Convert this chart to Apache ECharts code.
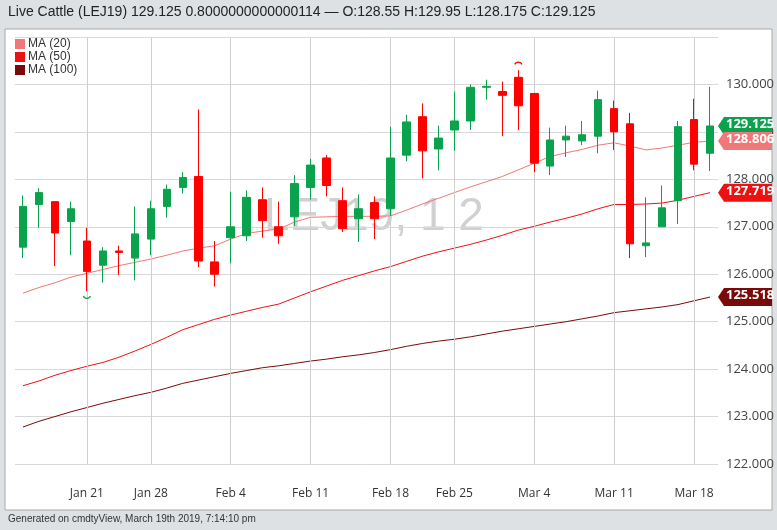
<!DOCTYPE html>
<html><head><meta charset="utf-8">
<script src="https://cdn.jsdelivr.net/npm/echarts@6/dist/echarts.min.js"></script>
<style>html,body{margin:0;padding:0;background:#dde1e4;}#c{width:777px;height:530px;}</style>
</head><body><div id="c"></div>
<script>
const dates = ['Jan 15','Jan 16','Jan 17','Jan 18','Jan 22','Jan 23','Jan 24','Jan 25','Jan 28','Jan 29','Jan 30','Jan 31','Feb 1','Feb 4','Feb 5','Feb 6','Feb 7','Feb 8','Feb 11','Feb 12','Feb 13','Feb 14','Feb 15','Feb 19','Feb 20','Feb 21','Feb 22','Feb 25','Feb 26','Feb 27','Feb 28','Mar 1','Mar 4','Mar 5','Mar 6','Mar 7','Mar 8','Mar 11','Mar 12','Mar 13','Mar 14','Mar 15','Mar 18','Mar 19'];
const opens  = [126.57,127.47,127.53,127.11,126.70,126.19,126.49,126.34,126.74,127.43,127.83,128.06,126.26,126.77,126.81,127.57,127.00,127.21,127.83,128.45,127.55,127.17,127.51,127.38,128.51,129.32,128.64,129.04,129.23,129.94,129.85,130.15,129.81,128.28,128.83,128.81,128.91,129.49,129.17,126.60,127.00,127.55,129.26,128.55];
const closes = [127.43,127.72,126.87,127.38,126.06,126.49,126.46,126.85,127.38,127.79,128.04,126.28,126.00,127.00,127.62,127.13,126.81,127.91,128.30,127.87,126.96,127.38,127.17,128.45,129.21,128.60,128.87,129.23,129.94,129.96,129.77,129.55,128.34,128.83,128.91,128.94,129.68,129.00,126.64,126.66,127.40,129.11,128.32,129.125];
const lows   = [126.34,126.98,126.17,126.40,125.64,125.82,125.98,125.87,126.40,127.19,127.70,126.15,125.74,126.23,126.70,126.77,126.64,127.02,127.57,127.64,126.89,126.68,126.74,127.23,128.38,128.02,128.19,128.60,129.04,129.68,128.91,129.04,128.15,128.09,128.47,128.72,128.55,128.62,126.34,126.36,127.00,127.06,128.19,128.175];
const highs  = [127.66,127.81,127.53,127.53,126.98,126.57,126.60,127.43,127.55,127.89,128.15,129.47,126.70,127.74,127.77,127.83,127.53,128.09,128.43,128.51,127.83,127.68,127.64,129.11,129.36,129.60,129.13,129.85,130.00,130.10,130.06,130.30,129.81,129.09,129.13,129.23,129.87,129.66,129.40,127.62,127.87,129.23,129.70,129.95];
const ma20  = [125.60,125.72,125.82,125.94,126.02,126.10,126.18,126.25,126.32,126.40,126.49,126.55,126.60,126.74,126.86,126.91,126.95,127.10,127.20,127.21,127.22,127.22,127.22,127.23,127.35,127.48,127.60,127.72,127.84,127.95,128.06,128.20,128.34,128.48,128.56,128.63,128.72,128.77,128.70,128.62,128.66,128.72,128.78,128.806];
const ma50  = [123.65,123.75,123.87,123.97,124.06,124.14,124.25,124.38,124.52,124.67,124.83,124.94,125.05,125.14,125.22,125.30,125.37,125.50,125.63,125.75,125.87,125.97,126.07,126.16,126.27,126.38,126.47,126.55,126.63,126.72,126.82,126.93,127.01,127.10,127.18,127.27,127.38,127.47,127.47,127.48,127.50,127.56,127.64,127.719];
const ma100 = [122.78,122.90,123.00,123.10,123.19,123.28,123.36,123.44,123.51,123.60,123.70,123.77,123.84,123.91,123.97,124.03,124.07,124.12,124.17,124.21,124.26,124.30,124.35,124.41,124.48,124.54,124.59,124.63,124.68,124.74,124.80,124.85,124.90,124.95,125.00,125.06,125.12,125.19,125.23,125.27,125.31,125.36,125.44,125.518];
const tickDates  = ['Jan 22','Jan 28','Feb 4','Feb 11','Feb 19','Feb 25','Mar 4','Mar 11','Mar 18'];
const tickLabels = ['Jan 21','Jan 28','Feb 4','Feb 11','Feb 18','Feb 25','Mar 4','Mar 11','Mar 18'];

const GREEN='#0aa24c', RED='#ff0000', C20='#f07878', C50='#ee1111', C100='#7a0a0a';
const candles = dates.map((d,i)=>[opens[i],closes[i],lows[i],highs[i]]);
const chart = echarts.init(document.getElementById('c'));
const baseGraphic = [
  {type:'rect',shape:{x:5,y:29,width:767,height:481},style:{fill:'#fff',stroke:'#a8a8a8',lineWidth:1},z:-10},
  {type:'text',left:8,top:5,style:{text:'Live Cattle (LEJ19) 129.125 0.8000000000000114 — O:128.55 H:129.95 L:128.175 C:129.125',fontSize:14,fill:'#222',fontFamily:'Liberation Sans'}},
  {type:'text',left:8,top:514,style:{text:'Generated on cmdtyView, March 19th 2019, 7:14:10 pm',fontSize:10,fill:'#333',fontFamily:'Liberation Sans'}},
  {type:'text',left:264,top:194,z:0,style:{text:'LEJ19, 1 2',fontSize:46,fill:'#d0d0d0',fontFamily:'Liberation Sans'}}
];
chart.setOption({
  animation:false,
  backgroundColor:'#dde1e4',
  graphic:baseGraphic,
  legend:{left:10,top:33,orient:'vertical',itemGap:1,itemWidth:10,itemHeight:10,icon:'rect',
    textStyle:{fontSize:12,color:'#333',fontFamily:'Liberation Sans',padding:[0,0,0,-2]},
    data:['MA (20)','MA (50)','MA (100)']},
  grid:{left:15,right:59,top:37,bottom:66},
  xAxis:{type:'category',data:dates,boundaryGap:true,
    axisLine:{show:false},axisTick:{show:false},splitLine:{show:false},
    axisLabel:{margin:24,fontSize:12,color:'#333',fontFamily:'Open Sans',
      interval:(i,v)=>tickDates.includes(v),
      formatter:(v)=>{const k=tickDates.indexOf(v);return k>=0?tickLabels[k]:'';}}},
  yAxis:{type:'value',position:'right',min:122,max:131,interval:1,
    axisLine:{show:false},axisTick:{show:false},
    splitLine:{lineStyle:{color:'#d8d8d8'}},
    axisLabel:{showMaxLabel:false,margin:8,fontSize:13,color:'#444',fontFamily:'Open Sans',formatter:v=>v.toFixed(3)}},
  series:[
    {name:'price',type:'candlestick',data:candles,barWidth:8,z:5,
      itemStyle:{color:GREEN,color0:RED,borderColor:GREEN,borderColor0:RED,borderWidth:1}},
    {name:'grid',type:'line',data:[],markLine:{silent:true,symbol:'none',label:{show:false},
      lineStyle:{color:'#cfcfcf',type:'solid',width:1},data:tickDates.map(d=>({xAxis:d}))}},
    {name:'MA (20)',type:'line',data:ma20,symbol:'none',z:3,lineStyle:{color:C20,width:1},itemStyle:{color:C20}},
    {name:'MA (50)',type:'line',data:ma50,symbol:'none',z:3,lineStyle:{color:C50,width:1},itemStyle:{color:C50}},
    {name:'MA (100)',type:'line',data:ma100,symbol:'none',z:3,lineStyle:{color:C100,width:1},itemStyle:{color:C100}}
  ]
});
// tags and markers placed through the chart's own scales
const last = dates.length-1;
const tags = [[closes[last],GREEN],[ma20[last],C20],[ma50[last],C50],[ma100[last],C100]];
const extra = [];
tags.forEach(([v,c])=>{
  const y = chart.convertToPixel({yAxisIndex:0}, v);
  extra.push({type:'polygon',z:20,shape:{points:[[718,y],[724,y-9],[772,y-9],[772,y+9],[724,y+9]]},style:{fill:c}});
  extra.push({type:'text',z:21,x:726,y:y-8,style:{text:v.toFixed(3),fill:'#fff',fontSize:13,fontWeight:'bold',fontFamily:'Open Sans'}});
});
const iMax = highs.indexOf(Math.max(...highs)), iMin = lows.indexOf(Math.min(...lows));
const pMax = chart.convertToPixel({seriesIndex:0},[iMax,highs[iMax]]);
const pMin = chart.convertToPixel({seriesIndex:0},[iMin,lows[iMin]]);
extra.push({type:'arc',z:20,shape:{cx:pMax[0],cy:pMax[1]-4,r:4,startAngle:Math.PI*1.15,endAngle:Math.PI*1.85},style:{stroke:RED,fill:null,lineWidth:1.2}});
extra.push({type:'arc',z:20,shape:{cx:pMin[0],cy:pMin[1]+3,r:4,startAngle:Math.PI*0.15,endAngle:Math.PI*0.85},style:{stroke:GREEN,fill:null,lineWidth:1.2}});
chart.setOption({graphic:baseGraphic.concat(extra)});
</script></body></html>
